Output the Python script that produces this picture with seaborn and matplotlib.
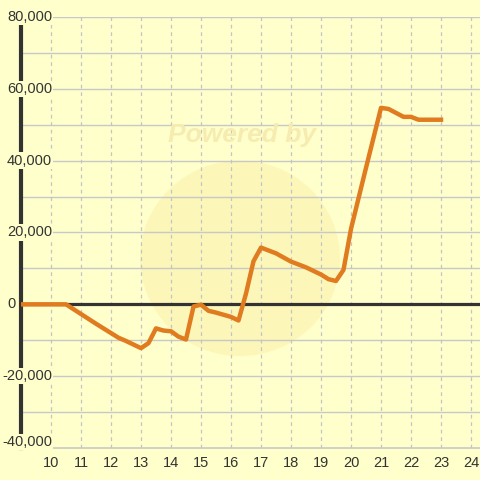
import pandas as pd
import numpy as np
import seaborn as sns
import matplotlib.pyplot as plt
from matplotlib.patches import Ellipse
from matplotlib.transforms import offset_copy, blended_transform_factory

# values
hours = [9.0, 10.5, 11.0, 11.5, 12.0, 12.25, 12.5, 13.0, 13.25, 13.5, 13.75, 14.0,
         14.25, 14.5, 14.75, 15.0, 15.25, 15.5, 16.0, 16.25, 16.5, 16.75, 17.0,
         17.5, 18.0, 18.5, 19.0, 19.25, 19.5, 19.75, 20.0, 20.5, 21.0, 21.25,
         21.5, 21.75, 22.0, 22.25, 22.5, 23.0]
balance = [0, 0, -2700, -5400, -8000, -9300, -10200, -12200, -10800, -6700, -7300, -7500,
           -9000, -9800, -600, -100, -1800, -2300, -3500, -4500, 3000, 12000, 15800,
           14200, 11900, 10300, 8300, 7000, 6500, 9600, 21000, 38000, 54700, 54400,
           53300, 52200, 52200, 51400, 51400, 51400]
y_ticks = [-40000, -20000, 0, 20000, 40000, 60000, 80000]
x_ticks = list(range(10, 25))

df = pd.DataFrame({'hour': hours, 'balance': balance})

bg = '#FFFFCC'
fig = plt.figure(figsize=(4.8, 4.8), dpi=100, facecolor=bg)
ax = fig.add_axes([21 / 480, 32 / 480, 459 / 480, 431 / 480])
ax.set_facecolor(bg)
ax.set_xlim(9, 24.3)
ax.set_ylim(-40000, 80000)

# faint watermark (circle + text)
ax.add_patch(Ellipse((16.3, 12800), 200 / 30, 196 / 72 * 20000, facecolor='#FBF0A8',
                     alpha=0.5, edgecolor='none', zorder=0.5))
fig.text(242 / 480, 1 - 135 / 480, 'Powered by', ha='center', va='center', fontsize=19,
         fontweight='bold', fontstyle='italic', color='#F6ECB0', family='Liberation Sans')

for v in np.arange(-30000, 80001, 10000):
    ax.axhline(v, color='#C8C8C8', lw=1, zorder=1)
for v in x_ticks:
    ax.axvline(v, color='#C4C4C4', lw=0.9, ls=(0, (3, 3)), zorder=1)
ax.axhline(-40000, color='#C8C8C8', lw=1.2, zorder=1, clip_on=False)
ax.axhline(0, color='#333333', lw=2.3, zorder=2)

sns.lineplot(data=df, x='hour', y='balance', ax=ax, color='#E07B20', lw=3.2, zorder=6)

for s in ['top', 'right', 'bottom']:
    ax.spines[s].set_visible(False)
ax.spines['left'].set_color('#333333')
ax.spines['left'].set_linewidth(3)
ax.spines['left'].set_zorder(2)

ax.set_xticks([])
ax.set_yticks([])
ax.set_xlabel('')
ax.set_ylabel('')

# y labels sit over the left axis line, starting near the figure edge
ytrans = blended_transform_factory(fig.transFigure, ax.transData)
for v in y_ticks:
    x0 = (2 if v < 0 else 7) / 480
    tr = offset_copy(ytrans, fig=fig, x=0, y=6 if v == y_ticks[0] else 0, units='dots')
    ax.text(x0, v, f'{v:,}', ha='left', va='center', fontsize=10.5,
            color='#333333', family='Liberation Sans', zorder=5, clip_on=False,
            transform=tr, bbox=dict(facecolor=bg, edgecolor='none', pad=0.8))

xtrans = offset_copy(ax.transData, fig=fig, x=0, y=-8, units='dots')
for v in x_ticks:
    ax.text(v, -40000, str(v), ha='center', va='top', fontsize=10.5,
            color='#333333', family='Liberation Sans', clip_on=False, transform=xtrans)

fig.savefig('out.png', dpi=100, facecolor=bg)
